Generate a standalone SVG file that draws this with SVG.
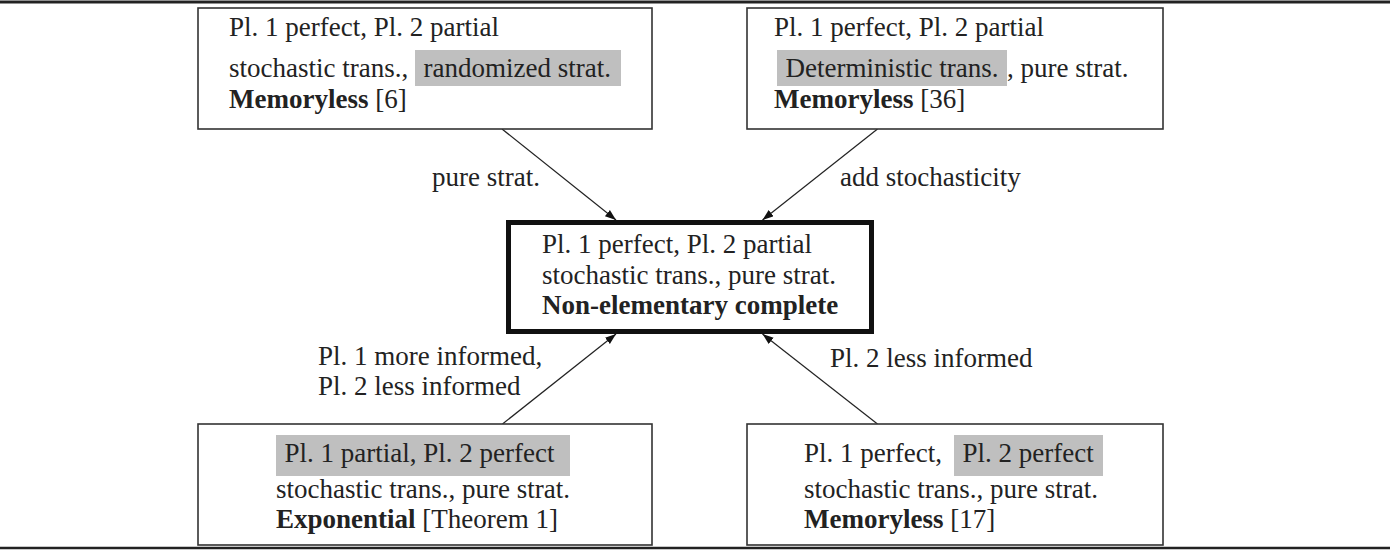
<svg xmlns="http://www.w3.org/2000/svg" width="1390" height="550" viewBox="0 0 1390 550">
<style>
  text { font-family: "Liberation Serif", "Times New Roman", serif; font-size: 27px; fill: #222; }
  .b { font-weight: bold; }
  .box { fill: #fff; stroke: #333; stroke-width: 1.6; }
  .main { fill: #fff; stroke: #111; stroke-width: 5; }
  .hl { fill: #bfbfbf; stroke: none; }
  .edge { stroke: #222; stroke-width: 1.2; fill: none; marker-end: url(#arr); }
  .rule { stroke: #222; }
</style>
<defs>
  <marker id="arr" markerUnits="userSpaceOnUse" markerWidth="12" markerHeight="10" refX="11" refY="4" orient="auto">
    <path d="M0,0 L11,4 L0,8 z" fill="#111"/>
  </marker>
</defs>
<rect width="1390" height="550" fill="#fff"/>
<line class="rule" x1="0" y1="2" x2="1390" y2="2" stroke-width="3"/>
<line class="rule" x1="0" y1="548" x2="1390" y2="548" stroke-width="2.5"/>

<g id="connectors">
  <line class="edge" x1="502" y1="129" x2="616" y2="220"/>
  <line class="edge" x1="877.5" y1="129" x2="762.5" y2="220"/>
  <line class="edge" x1="502.5" y1="424" x2="616" y2="334"/>
  <line class="edge" x1="877.5" y1="424" x2="762.5" y2="334"/>
  <text x="540" y="186" text-anchor="end">pure strat.</text>
  <text x="840" y="186">add stochasticity</text>
  <text x="318" y="365">Pl. 1 more informed,</text>
  <text x="318" y="395">Pl. 2 less informed</text>
  <text x="830" y="367">Pl. 2 less informed</text>
</g>

<g id="node-top-left">
  <rect class="box" x="198" y="8" width="454" height="121"/>
  <text x="229" y="36">Pl. 1 perfect, Pl. 2 partial</text>
  <text x="229" y="77">stochastic trans.,</text>
  <rect class="hl" x="415" y="50" width="206" height="36"/>
  <text x="423.5" y="77">randomized strat.</text>
  <text x="229" y="108"><tspan class="b">Memoryless</tspan> [6]</text>
</g>

<g id="node-top-right">
  <rect class="box" x="747" y="8" width="416" height="121"/>
  <text x="774" y="36">Pl. 1 perfect, Pl. 2 partial</text>
  <rect class="hl" x="777" y="50" width="230" height="36"/>
  <text x="785.5" y="77">Deterministic trans.</text>
  <text x="1007" y="77">, pure strat.</text>
  <text x="774" y="108"><tspan class="b">Memoryless</tspan> [36]</text>
</g>

<g id="node-center">
  <rect class="main" x="508.5" y="222.5" width="363" height="109"/>
  <text x="542" y="253">Pl. 1 perfect, Pl. 2 partial</text>
  <text x="542" y="283.5">stochastic trans., pure strat.</text>
  <text x="542" y="314" class="b">Non-elementary complete</text>
</g>

<g id="node-bottom-left">
  <rect class="box" x="198" y="424" width="454" height="121"/>
  <rect class="hl" x="276" y="435" width="294" height="41"/>
  <text x="284.5" y="462">Pl. 1 partial, Pl. 2 perfect</text>
  <text x="276" y="497.5">stochastic trans., pure strat.</text>
  <text x="276" y="528"><tspan class="b">Exponential</tspan> [Theorem 1]</text>
</g>

<g id="node-bottom-right">
  <rect class="box" x="747" y="424" width="416" height="121"/>
  <text x="804" y="462">Pl. 1 perfect,</text>
  <rect class="hl" x="954" y="435" width="149" height="41"/>
  <text x="962.5" y="462">Pl. 2 perfect</text>
  <text x="804" y="497.5">stochastic trans., pure strat.</text>
  <text x="804" y="528"><tspan class="b">Memoryless</tspan> [17]</text>
</g>
</svg>
